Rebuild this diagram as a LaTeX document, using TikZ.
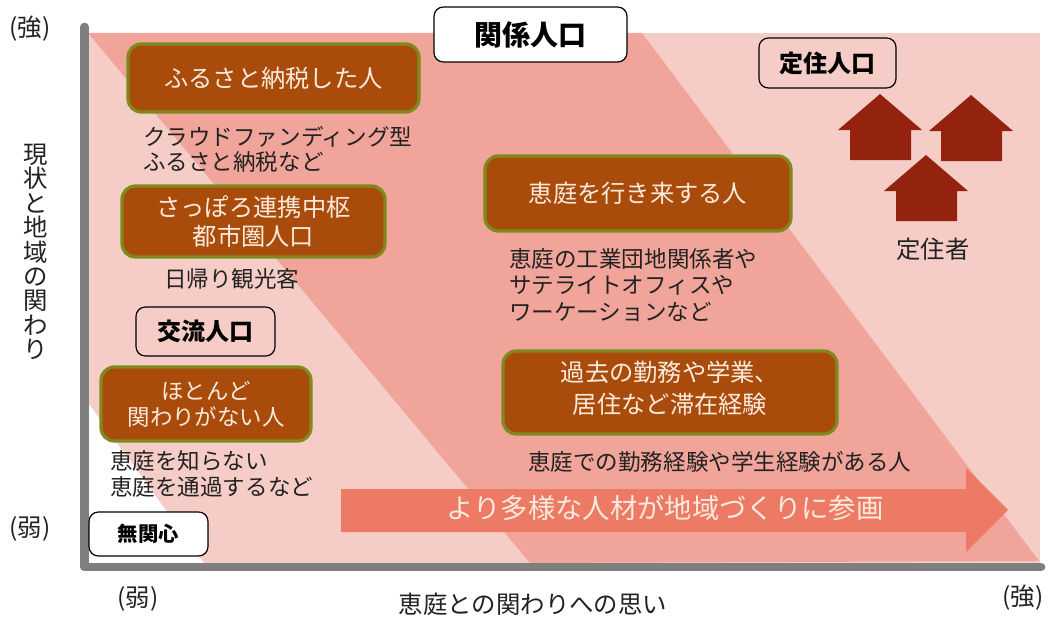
\documentclass[tikz,border=0pt]{standalone}
\usepackage{fontspec}
\setmainfont{Noto Sans CJK JP}
\usetikzlibrary{calc}
\definecolor{bgpink}{HTML}{F5CDC6}
\definecolor{band}{HTML}{F1A499}
\definecolor{axisg}{HTML}{7F7F7F}
\definecolor{brownf}{HTML}{A94B0B}
\definecolor{olive}{HTML}{7F8A1E}
\definecolor{house}{HTML}{93230F}
\definecolor{arrowc}{HTML}{EC7A64}
\definecolor{cream}{HTML}{FBEBDC}
\definecolor{ink}{HTML}{222222}
\newcommand{\fs}[1]{\fontsize{#1}{#1}\selectfont}
\tikzset{
 x=0.75pt,y=-0.75pt,
 brownbox/.style={draw=olive,line width=2.4pt,fill=brownf,rounded corners=10pt,text=cream,inner sep=0pt,align=center,font=\fs{18.2}},
 labelbox/.style={draw=black,line width=0.9pt,rounded corners=7pt,inner sep=0pt,align=center,text=black},
 plain/.style={text=ink,inner sep=0pt,align=left,font=\fs{16.9}},
 axislabel/.style={text=ink,inner sep=0pt,align=center,font=\fs{18.3}},
}
\newcommand{\bx}[6]{% name, style, x1,y1,x2,y2, text via node
 \node[#2,minimum width=#5*0.75pt-#3*0.75pt,minimum height=#6*0.75pt-#4*0.75pt] (#1) at ({(#3+#5)/2},{(#4+#6)/2})}
\newcommand{\housepic}[2]{%
 \fill[house] (#1,#2) -- (#1+42,#2+36) -- (#1+31,#2+36) -- (#1+31,#2+66) -- (#1-30,#2+66) -- (#1-30,#2+36) -- (#1-42,#2+36) -- cycle;}
\begin{document}
\begin{tikzpicture}
\useasboundingbox (0,0) rectangle (1048,617);
\fill[white] (0,0) rectangle (1048,617);
% panel
\fill[bgpink] (86,33) rectangle (1040,563);
\fill[band] (88,33) -- (642,33) -- (1039,561) -- (530,563) -- cycle;
\fill[white] (86,400) -- (204,563) -- (86,563) -- cycle;
% axes
\draw[axisg,line width=6.6pt,line cap=round,line join=round] (84.5,27) -- (84.5,567) -- (1041,567);
% arrow
\fill[arrowc] (341,489) -- (966,489) -- (966,468) -- (1008,510) -- (966,552) -- (966,532) -- (341,532) -- cycle;
\node[text=cream,inner sep=0pt,font=\fs{20.5}] (arrowtext) at (665,508) {より多様な人材が地域づくりに参画};
% brown boxes
\bx{b1}{brownbox}{128}{44}{419}{112} {ふるさと納税した人};
\bx{b2}{brownbox}{122}{186}{385}{257} {\raisebox{2pt}{さっぽろ連携中枢}\\[2pt]都市圏人口};
\bx{b3}{brownbox,font=\fs{16.8}}{101}{367}{311}{441} {ほとんど\\[3pt]関わりがない人};
\bx{b4}{brownbox}{485}{156}{791}{231} {恵庭を行き来する人};
\bx{b5}{brownbox}{503}{351}{837}{434} {過去の勤務や学業、\\[6pt]居住など滞在経験\\[-10pt]\rule{0pt}{3pt}};
% label boxes
\bx{l1}{labelbox,fill=white,font=\fs{21}\bfseries}{434}{7}{627}{62} {関係人口};
\bx{l2}{labelbox,font=\fs{18}\bfseries}{759}{38}{896}{88} {定住人口};
\bx{l3}{labelbox,font=\fs{18}\bfseries}{136}{307}{275}{356} {交流人口};
\bx{l4}{labelbox,fill=white,font=\fs{15.3}\bfseries}{89}{512}{208}{556} {無関心};
% houses
\housepic{880}{94}
\housepic{971}{95}
\housepic{926}{155}
% plain text
\node[plain,anchor=west] (t1) at (143,149) {クラウドファンディング型\\[2pt]ふるさと納税など};
\node[plain,anchor=west] (t2) at (164,279) {日帰り観光客};
\node[plain,anchor=west] (t3) at (110,474) {恵庭を知らない\\[3pt]恵庭を通過するなど};
\node[plain,anchor=west] (t4) at (509,285) {恵庭の工業団地関係者や\\[3pt]サテライトオフィスや\\[3pt]ワーケーションなど};
\node[plain,anchor=west] (t5) at (528,462) {恵庭での勤務経験や学生経験がある人};
\node[axislabel] (t6) at (933,249) {定住者};
% axis labels
\node[axislabel] (s1) at (30,29) {(強)};
\node[axislabel] (s2) at (30,529) {(弱)};
\node[axislabel] (s3) at (138,599) {(弱)};
\node[axislabel] (s4) at (1023,598) {(強)};
\node[axislabel] (s5) at (533,604) {恵庭との関わりへの思い};
\node[axislabel,font=\fontsize{18.3}{18.3}\selectfont,text width=30pt] (s6) at (36,252) {現\\状\\と\\地\\域\\の\\関\\わ\\り};
\end{tikzpicture}
\end{document}
